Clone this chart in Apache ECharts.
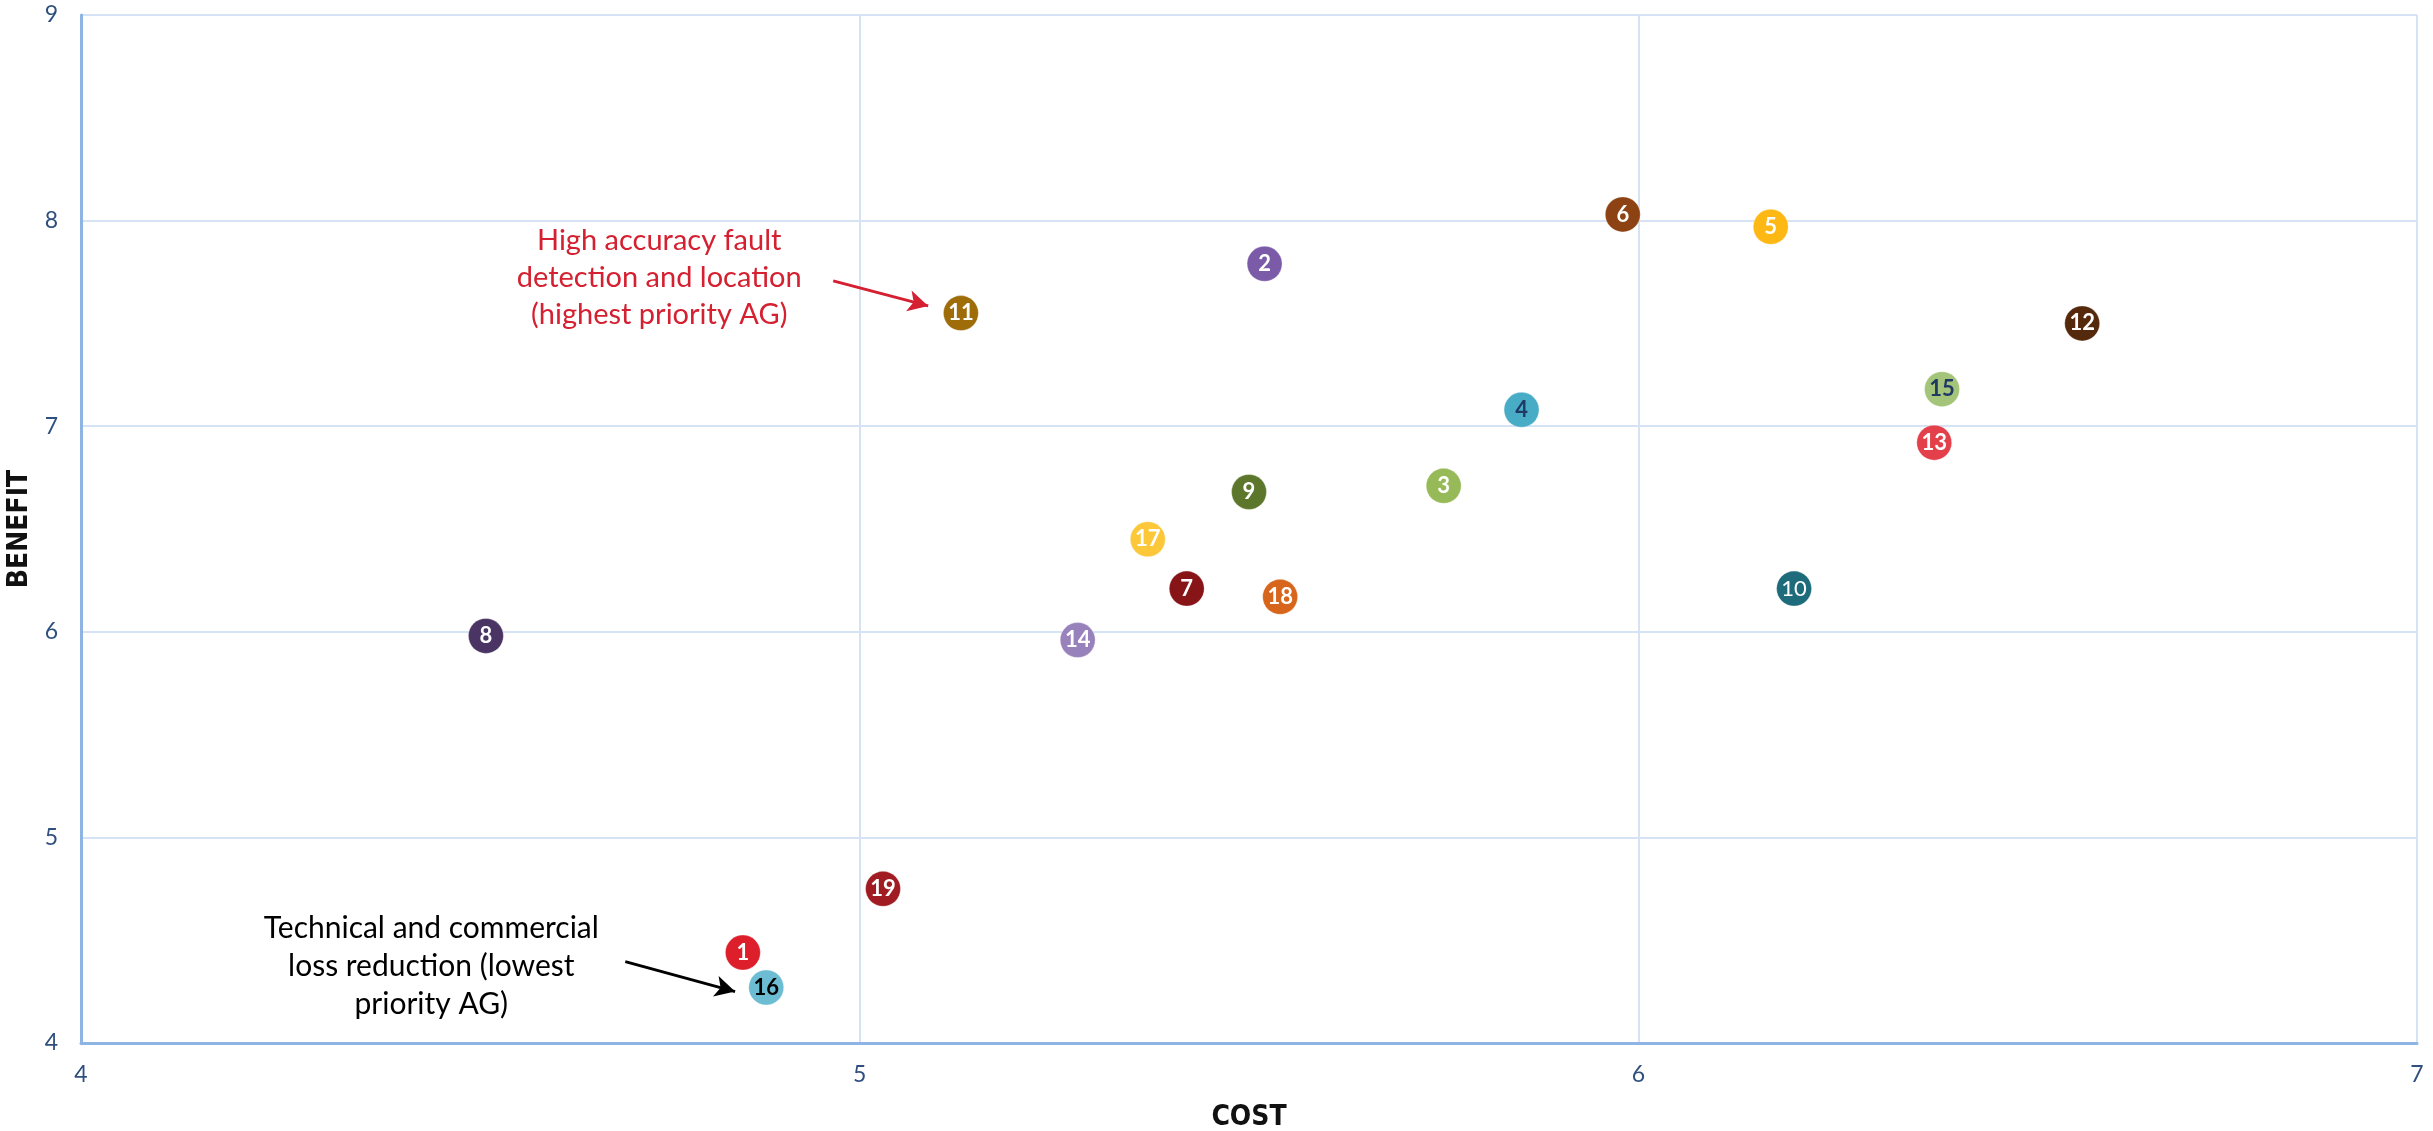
<!DOCTYPE html>
<html>
<head>
<meta charset="utf-8">
<script src="https://cdn.jsdelivr.net/npm/echarts@6/dist/echarts.min.js"></script>
<style>
  html, body { margin: 0; padding: 0; background: #ffffff; }
  #chart { width: 2433px; height: 1131px; }
</style>
</head>
<body>
<div id="chart"></div>
<script>
// Application groups: id, cost score, benefit score
const groupIds = [1, 2, 3, 4, 5, 6, 7, 8, 9, 10, 11, 12, 13, 14, 15, 16, 17, 18, 19];
const costValues = [4.85, 5.52, 5.75, 5.85, 6.17, 5.98, 5.42, 4.52, 5.50, 6.20, 5.13, 6.57, 6.38, 5.28, 6.39, 4.88, 5.37, 5.54, 5.03];
const benefitValues = [4.44, 7.79, 6.71, 7.08, 7.97, 8.03, 6.21, 5.98, 6.68, 6.21, 7.55, 7.50, 6.92, 5.96, 7.18, 4.27, 6.45, 6.17, 4.75];

// Axis ranges and ticks
const xTicks = [4, 5, 6, 7];
const yTicks = [4, 5, 6, 7, 8, 9];

// Annotation arrows (data coordinates: from -> to)
const highArrow = [[4.966, 7.707], [5.088, 7.585]];
const lowArrow = [[4.699, 4.396], [4.840, 4.250]];

// Bubble fills and label colours per group
const fillColors = ['#DD1F2B', '#7B5BA7', '#97BA58', '#49ACC6', '#FDB813', '#8C4212', '#871417', '#4A3463',
  '#5C772C', '#1E6B7B', '#9E6D0A', '#55290C', '#E4404B', '#9882BB', '#A4C47A', '#6CBCD3', '#FDC73A', '#D7651B', '#A11C22'];
const labelColors = { 4: '#1F3864', 15: '#1F3864', 16: '#000000' };

const chart = echarts.init(document.getElementById('chart'), null, { renderer: 'canvas' });

const points = groupIds.map((id, i) => ({
  value: [costValues[i], benefitValues[i]],
  name: String(id),
  itemStyle: { opacity: 1, color: fillColors[i] },
  label: {
    color: labelColors[id] || '#ffffff',
    fontWeight: id === 10 ? 'normal' : 'bold'
  }
}));

const gridLine = { show: true, lineStyle: { color: '#D5E3F4', width: 2 } };
const axisLabelStyle = { color: '#2F4F7F', fontSize: 23, fontFamily: 'Lato, "Open Sans", sans-serif' };
const axisNameStyle = { fontSize: 28, fontWeight: 'bold', color: '#111111', fontFamily: '"Liberation Sans Narrow", "Arial Narrow", "DejaVu Sans Condensed", sans-serif' };

chart.setOption({
  animation: false,
  backgroundColor: '#ffffff',
  grid: { left: 81, right: 16, top: 15, bottom: 88, containLabel: false, outerBoundsMode: 'none' },
  xAxis: {
    type: 'value',
    min: xTicks[0],
    max: xTicks[xTicks.length - 1],
    interval: 1,
    name: 'COST',
    nameLocation: 'middle',
    nameGap: 61,
    nameTextStyle: axisNameStyle,
    axisLine: { show: true, lineStyle: { color: '#8EB4E3', width: 3 } },
    axisTick: { show: false },
    axisLabel: Object.assign({ margin: 20 }, axisLabelStyle),
    splitLine: gridLine
  },
  yAxis: {
    type: 'value',
    min: yTicks[0],
    max: yTicks[yTicks.length - 1],
    interval: 1,
    name: 'BENEFIT',
    nameLocation: 'middle',
    nameRotate: 90,
    nameGap: 37,
    nameTextStyle: axisNameStyle,
    axisLine: { show: true, lineStyle: { color: '#8EB4E3', width: 3 } },
    axisTick: { show: false },
    axisLabel: Object.assign({ margin: 23 }, axisLabelStyle),
    splitLine: gridLine
  },
  series: [
    {
      type: 'scatter',
      symbol: 'circle',
      symbolSize: 35,
      data: points,
      itemStyle: { opacity: 1, borderColor: 'rgba(255,255,255,0.3)', borderWidth: 1 },
      label: {
        show: true,
        position: 'inside',
        formatter: p => p.name,
        fontSize: 22,
        fontFamily: 'Lato, "Open Sans", sans-serif'
      },
      z: 3
    },
    {
      type: 'line',
      data: [],
      silent: true,
      markLine: {
        silent: true,
        animation: false,
        symbol: ['none', 'arrow'],
        symbolSize: [16, 20],
        label: { show: false },
        data: [
          [{ coord: highArrow[0], lineStyle: { color: '#D42030', width: 3, type: 'solid' } }, { coord: highArrow[1] }],
          [{ coord: lowArrow[0], lineStyle: { color: '#000000', width: 3, type: 'solid' } }, { coord: lowArrow[1] }]
        ]
      }
    }
  ]
});

// Annotation texts, centred to the left of each arrow tail
const tailHigh = chart.convertToPixel({ gridIndex: 0 }, highArrow[0]);
const tailLow = chart.convertToPixel({ gridIndex: 0 }, lowArrow[0]);

chart.setOption({
  graphic: [
    {
      type: 'text',
      x: tailHigh[0] - 174,
      y: tailHigh[1] - 59,
      style: {
        text: 'High accuracy fault\ndetection and location\n(highest priority AG)',
        fill: '#D42030',
        font: '29px Lato, "Open Sans", sans-serif',
        lineHeight: 37,
        align: 'center',
        verticalAlign: 'top'
      },
      z: 10
    },
    {
      type: 'text',
      x: tailLow[0] - 194,
      y: tailLow[1] - 52,
      style: {
        text: 'Technical and commercial\nloss reduction (lowest\npriority AG)',
        fill: '#000000',
        font: '30px Lato, "Open Sans", sans-serif',
        lineHeight: 38,
        align: 'center',
        verticalAlign: 'top'
      },
      z: 10
    }
  ]
});
</script>
</body>
</html>
